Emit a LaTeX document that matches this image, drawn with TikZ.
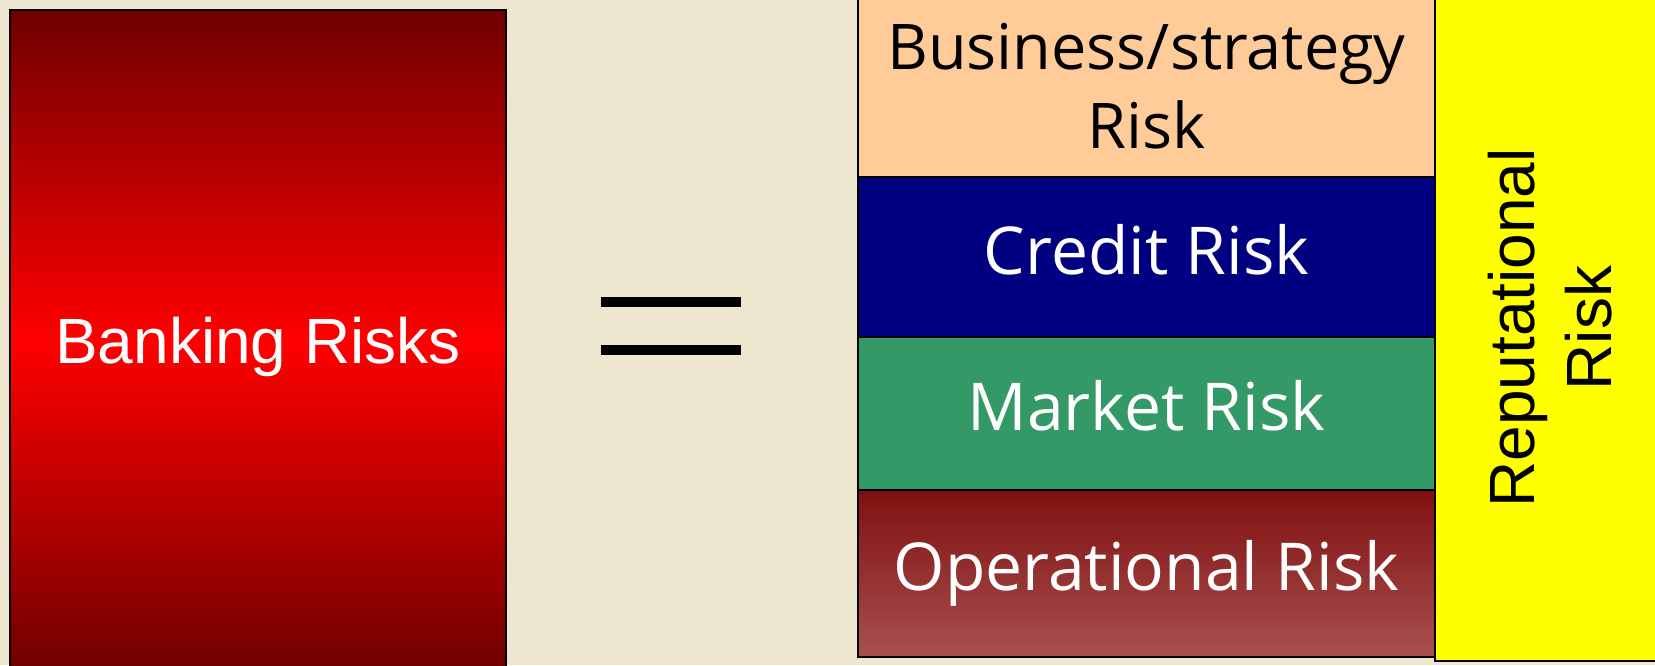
\documentclass[tikz,border=0pt]{standalone}
\usepackage{fontspec}
\setmainfont{Open Sans}
\newfontfamily\arialfont{Liberation Sans}
\definecolor{bgCream}{HTML}{EFE6D0}
\definecolor{riskPeach}{HTML}{FFCC99}
\definecolor{riskNavy}{HTML}{000080}
\definecolor{riskGreen}{HTML}{339966}
\definecolor{riskYellow}{HTML}{FFFF00}
\definecolor{redDark}{HTML}{700000}
\definecolor{opTop}{HTML}{801010}
\definecolor{opBottom}{HTML}{A85050}
\begin{document}
\begin{tikzpicture}[x=1pt, y=-1pt,
  riskbox/.style={rectangle, draw=black, line width=1.5pt, inner sep=0pt,
    minimum width=577pt, text height=47pt, text depth=13pt,
    font=\fontsize{66}{79}\selectfont}]
\useasboundingbox (0,0) rectangle (1655,665);
\fill[bgCream] (0,0) rectangle (1655,665);
%%%%%%%%%%%%%%%%%%%%%%%%%%%%%%% Left side: the whole
\node[rectangle, draw=black, line width=1.5pt, inner sep=0pt,
  minimum width=496pt, minimum height=660pt, top color=redDark,
  bottom color=redDark, middle color=red, text=white,
  text height=46pt, text depth=0pt,
  font=\arialfont\fontsize{64}{77}\selectfont](bBanking) at (258,340){Banking Risks};
\fill[black] (601,297) rectangle (741,307);
\fill[black] (601,345) rectangle (741,355);
%%%%%%%%%%%%%%%%%%%%%%%%%%%%%%% Right side: the parts
\node[riskbox, fill=riskPeach, minimum height=182pt, align=center,
  text height=, text depth=, font=\fontsize{63}{79}\selectfont](bBusiness) at (1146.5,86){Business/strategy\\Risk};
\node[riskbox, fill=riskNavy, text=white, minimum height=160pt](bCredit) at (1146.5,257){Credit Risk};
\node[riskbox, fill=riskGreen, text=white, minimum height=153pt](bMarket) at (1146.5,413.5){Market Risk};
\node[riskbox, top color=opTop, bottom color=opBottom, text=white,
  minimum height=167pt](bOperational) at (1146.5,573.5){Operational Risk};
\node[rectangle, draw=black, line width=1.5pt, fill=riskYellow,
  minimum width=230pt, minimum height=666pt](bReputational) at (1550,328){};
\node[rotate=90, align=center, inner sep=0pt,
  font=\arialfont\fontsize{64}{77}\selectfont](lReputational) at (bReputational.center){Reputational\\Risk};
\end{tikzpicture}
\end{document}
